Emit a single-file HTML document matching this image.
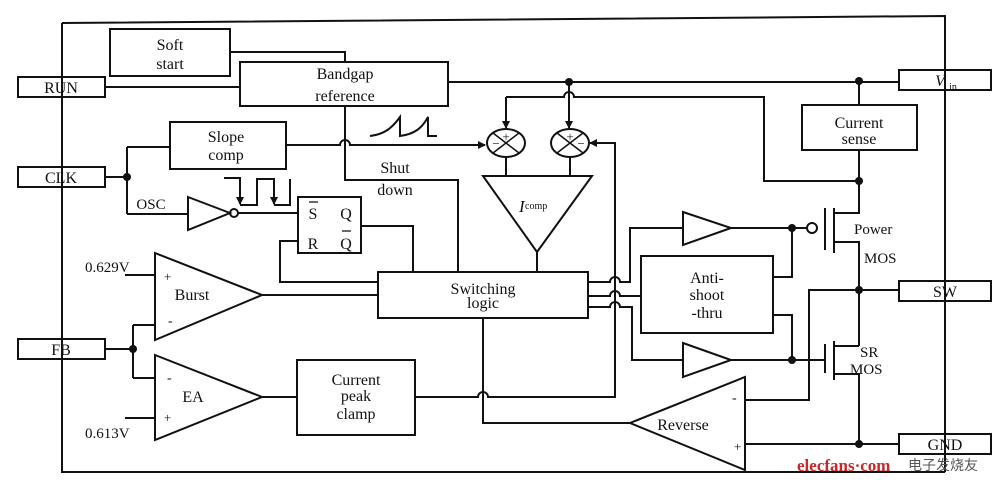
<!DOCTYPE html>
<html><head><meta charset="utf-8"><style>body{margin:0;background:#fff}svg{display:block}text{font-family:"Liberation Serif",serif;fill:#111}</style></head><body>
<svg width="1000" height="485" viewBox="0 0 1000 485" xmlns="http://www.w3.org/2000/svg">
<defs><marker id="a" markerWidth="8" markerHeight="8" refX="7" refY="4" orient="auto" markerUnits="userSpaceOnUse"><path d="M0,0 L8,4 L0,8z" fill="#111"/></marker></defs>
<g fill="none" stroke="#111" stroke-width="2">
<path d="M62,23 L945,16 L945,472 M62,23 L62,472 L945,472"/>
<rect x="18" y="77" width="87" height="20" fill="#fff"/>
<rect x="18" y="167" width="87" height="20" fill="#fff"/>
<rect x="18" y="339" width="87" height="20" fill="#fff"/>
<rect x="899" y="70" width="92" height="20" fill="#fff"/>
<rect x="899" y="281" width="92" height="20" fill="#fff"/>
<rect x="899" y="434" width="92" height="20" fill="#fff"/>
<path d="M945,70 V90 M945,281 V301 M945,434 V454 M62,77 V97 M62,167 V187 M62,339 V359"/>
<rect x="110" y="29" width="120" height="47"/>
<rect x="240" y="62" width="208" height="44"/>
<rect x="170" y="122" width="116" height="47"/>
<rect x="298" y="197" width="63" height="56"/>
<rect x="378" y="272" width="210" height="46"/>
<rect x="641" y="256" width="132" height="77"/>
<rect x="802" y="105" width="115" height="45"/>
<rect x="297" y="360" width="118" height="75"/>
<path d="M230,52 H345 V62 M105,87 H240 M448,82 H899 M859,82 V105 M859,150 V181"/>
<path d="M345,106 V180 H458 V272"/>
<path d="M286,145 H340 A5,5 0 0 1 350,145 H485" marker-end="url(#a)"/>
<path d="M506,97 H564 A5,5 0 0 1 574,97 H764 V181 H859"/>
<path d="M506,97 V128" marker-end="url(#a)"/>
<path d="M569,82 V128" marker-end="url(#a)"/>
<path d="M370,136 C385,134 392,128 400,117 V136 C415,134 422,128 428,117 V136 H437"/>
<ellipse cx="506" cy="143" rx="19" ry="14"/>
<ellipse cx="570" cy="143" rx="19" ry="14"/>
<path d="M493,133 L519,153 M519,133 L493,153 M557,133 L583,153 M583,133 L557,153" stroke-width="1.5"/>
<path d="M506,157 V176 M570,157 V176 M537,252 V272"/>
<path d="M483,176 H592 L537,252 Z"/>
<path d="M105,177 H127 M127,147 V214 M127,147 H170 M127,214 H188"/>
<path d="M188,197 L230,213 L188,230 Z"/>
<circle cx="234" cy="213" r="4"/>
<path d="M238,213 H298"/>
<path d="M224,178 H240 V204" marker-end="url(#a)"/>
<path d="M240,205 H257 V179 H274 V204" marker-end="url(#a)"/>
<path d="M274,205 H290 V179"/>
<path d="M361,226 H413 V272 M298,241 H280 V282 H378"/>
<path d="M155,253 L262,295 L155,340 Z"/>
<path d="M155,355 L262,397 L155,440 Z"/>
<path d="M125,275 H155 M125,418 H155 M262,295 H378 M105,349 H133 M133,325 V378 M133,325 H155 M133,378 H155 M262,397 H297"/>
<path d="M415,397 H478 A5,5 0 0 1 488,397 H615 V143 H598" />
<path d="M483,318 V423 H630"/>
<path d="M598,143 L590,143" marker-end="url(#a)"/>
<path d="M588,282 H610 A5,5 0 0 1 620,282 H630 V228 H683"/>
<path d="M588,296 H610 A5,5 0 0 1 620,296 H641"/>
<path d="M588,307 H610 A5,5 0 0 1 620,307 H632 V360 H683"/>
<path d="M683,212 L731,228 L683,245 Z"/>
<path d="M683,343 L731,360 L683,377 Z"/>
<path d="M731,228 H806 M773,277 H792 V228 M773,315 H792 V360 M731,360 H825"/>
<circle cx="812" cy="228" r="5"/>
<path d="M825,208 V250 M834,208 V253 M834,213 H859 V181 M834,242 H859 V346"/>
<path d="M825,344 V373 M834,341 V380 M834,346 H859 M834,374 H859 V444 M859,290 H899 M859,290 H809 V400 H745 M745,444 H899"/>
<path d="M630,423 L745,377 L745,470 Z"/>
</g>
<g fill="#111">
<circle cx="127" cy="177" r="4"/><circle cx="133" cy="349" r="4"/><circle cx="569" cy="82" r="4"/><circle cx="859" cy="81" r="4"/><circle cx="859" cy="181" r="4"/><circle cx="792" cy="228" r="4"/><circle cx="792" cy="360" r="4"/><circle cx="859" cy="290" r="4"/><circle cx="859" cy="444" r="4"/>
</g>
<g font-size="16" text-anchor="middle">
<text x="61" y="93">RUN</text><text x="61" y="183">CLK</text><text x="61" y="355">FB</text>
<text x="940" y="86" font-style="italic">V</text><text x="953" y="90" font-size="10">in</text>
<text x="945" y="297">SW</text><text x="945" y="450">GND</text>
<text x="170" y="50">Soft</text><text x="170" y="69">start</text>
<text x="345" y="79">Bandgap</text><text x="345" y="101">reference</text>
<text x="226" y="142">Slope</text><text x="226" y="160">comp</text>
<text x="395" y="173">Shut</text><text x="395" y="195">down</text>
<text x="151" y="209" font-size="15">OSC</text>
<text x="313" y="219">S</text><text x="346" y="219">Q</text><text x="313" y="249">R</text><text x="346" y="249">Q</text>
<text x="483" y="294">Switching</text><text x="483" y="308">logic</text>
<text x="707" y="283">Anti-</text><text x="707" y="300">shoot</text><text x="707" y="318">-thru</text>
<text x="859" y="128">Current</text><text x="859" y="144">sense</text>
<text x="356" y="385">Current</text><text x="356" y="401">peak</text><text x="356" y="419">clamp</text>
<text x="192" y="300">Burst</text><text x="193" y="402">EA</text>
<text x="683" y="430">Reverse</text>
</g>
<g stroke="#111" stroke-width="1.3"><path d="M309,202 H318 M342,231 H351"/></g>
<g font-size="15">
<text x="854" y="234">Power</text>
<text x="864" y="263">MOS</text>
<text x="860" y="357">SR</text><text x="850" y="374">MOS</text>
<text x="85" y="272">0.629V</text><text x="85" y="438">0.613V</text>
<text x="164" y="281" font-size="13">+</text><text x="168" y="325" font-size="14">-</text>
<text x="167" y="382" font-size="14">-</text><text x="164" y="422" font-size="13">+</text>
<text x="732" y="402" font-size="14">-</text><text x="734" y="451" font-size="13">+</text>
<text x="519" y="212" font-style="italic" font-size="17">I</text><text x="525" y="209" font-size="10">comp</text>
</g>
<g font-size="13" font-family="Liberation Sans,sans-serif" text-anchor="middle">
<text x="506" y="141">+</text><text x="496" y="148">−</text><text x="570" y="141">+</text><text x="581" y="148">−</text>
</g>
<text x="797" y="471" font-family="Liberation Sans,sans-serif" font-size="17" font-weight="bold" style="fill:#c8282a">elecfans·com</text>
<text x="908" y="470" font-family="'Noto Sans CJK SC',sans-serif" font-size="14" style="fill:#555">电子发烧友</text>
</svg>
</body></html>
